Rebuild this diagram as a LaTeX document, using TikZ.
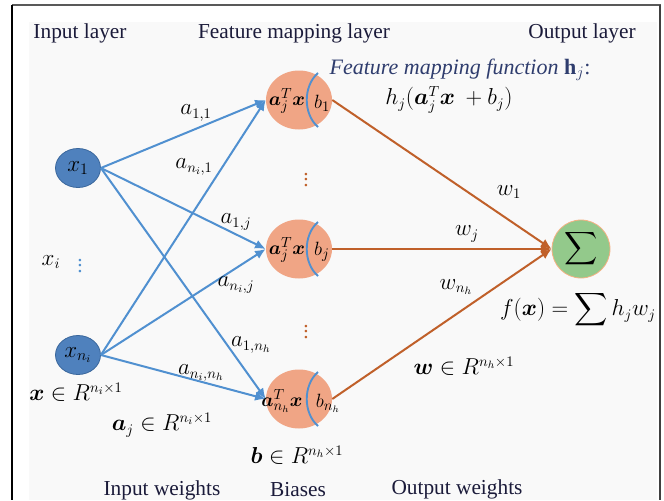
\documentclass[tikz,border=0pt]{standalone}
\usepackage{amsmath,bm}
\usepackage{fontspec}
\setmainfont{Liberation Serif}
\usetikzlibrary{arrows.meta,shapes.geometric}
\definecolor{bluenode}{HTML}{4F81BD}
\definecolor{blueedge}{HTML}{3A679C}
\definecolor{blueline}{HTML}{5090D0}
\definecolor{brownline}{HTML}{C0602A}
\definecolor{orangefill}{HTML}{F0A585}
\definecolor{greenfill}{HTML}{93C98B}
\definecolor{greenedge}{HTML}{F4B183}
\definecolor{navy}{HTML}{1B1B3A}
\definecolor{fnblue}{HTML}{2F3D6E}
\definecolor{bggrey}{HTML}{F9F9F9}
\begin{document}
\begin{tikzpicture}[x=0.75pt,y=-0.75pt,
  title/.style={text=navy,font=\fontsize{16}{18}\selectfont,inner sep=0},
  lab/.style={font=\fontsize{16}{18}\selectfont,inner sep=0},
  nlab/.style={font=\fontsize{15}{17}\selectfont,inner sep=0},
  ilab/.style={font=\fontsize{17}{19}\selectfont,inner sep=0},
  inode/.style={ellipse,draw=blueedge,fill=bluenode,line width=0.6pt,minimum width=33.75pt,minimum height=29.25pt,inner sep=0},
  hnode/.style={ellipse,fill=orangefill,minimum width=49.5pt,minimum height=44.25pt,inner sep=0},
  snode/.style={circle,draw=greenedge,fill=greenfill,line width=0.6pt,minimum size=43.5pt,inner sep=0},
  barrow/.style={draw=blueline,line width=1.5pt,-{Latex[length=8pt,width=7pt]}},
  rarrow/.style={draw=brownline,line width=1.5pt,-{Latex[length=8pt,width=7pt]}},
  arcline/.style={draw=blueline,line width=1.4pt},
]
\useasboundingbox (0,0) rectangle (664,500);
% frame
\fill[bggrey] (29,22) rectangle (657,500);
\draw[line width=2.2pt,draw=black!65] (12,5) -- (661,5);
\draw[line width=1.1pt] (12,5) -- (12,500);
\draw[line width=1.1pt,draw=black!75] (660,5) -- (660,500);

% titles
\node[title] (tin) at (80,33) {Input layer};
\node[title] (tfm) at (294,33) {Feature mapping layer};
\node[title] (tout) at (582,33) {Output layer};
\node[title,text=fnblue,font=\fontsize{16.5}{18}\selectfont] (tfun) at (460,70) {\textit{Feature mapping function} $\mathbf{h}_j$:};
\node[lab] (hfun) at (449,100) {$h_j(\bm{a}_j^T\bm{x}\ +b_j)$};

% nodes
\node[inode] (x1) at (78,168) {};
\node[ilab] (x1t) at (x1) {$x_1$};
\node[inode] (xn) at (78,355) {};
\node[ilab] (xnt) at (xn) {$x_{n_i}$};

\node[hnode] (h1) at (299,100) {};
\node[hnode] (h2) at (299,249) {};
\node[hnode] (h3) at (299,399) {};
\node[snode] (sig) at (581,249) {};
\node[inner sep=0,font=\fontsize{19}{20}\selectfont] (sigt) at (sig) {$\displaystyle\sum$};

% blue arrows
\foreach \h in {h1,h2,h3}{
  \draw[barrow] (x1.east) -- (\h.west);
  \draw[barrow] (xn.east) -- (\h.west);
}
% brown arrows
\foreach \h in {h1,h2,h3}{
  \draw[rarrow] (\h.east) -- (sig.west);
}

% hidden node contents
\node[nlab] (h1a) at (287,101) {$\bm{a}_j^T\bm{x}$};
\node[nlab] (h1b) at (322,103) {$b_1$};
\draw[arcline] (318,73) .. controls (303,86) and (303,114) .. (318,127);
\node[nlab] (h2a) at (287,250) {$\bm{a}_j^T\bm{x}$};
\node[nlab] (h2b) at (322,252) {$b_j$};
\draw[arcline] (318,222) .. controls (303,235) and (303,263) .. (318,276);
\node[nlab] (h3a) at (282,401) {$\bm{a}_{n_h}^T\bm{x}$};
\node[nlab] (h3b) at (328,403) {$b_{n_h}$};
\draw[arcline] (318,372) .. controls (303,385) and (303,413) .. (318,426);

% weight labels
\node[lab] (l11) at (196,113) {$a_{1,1}$};
\node[lab] (ln1) at (194,167) {$a_{n_i,1}$};
\node[lab] (l1j) at (236,222) {$a_{1,j}$};
\node[lab] (lnj) at (236,285) {$a_{n_i,j}$};
\node[lab] (l1h) at (251,345) {$a_{1,n_h}$};
\node[lab] (lnh) at (201,373) {$a_{n_i,n_h}$};
\node[lab] (w1) at (509,192) {$w_1$};
\node[lab] (wj) at (467,234) {$w_j$};
\node[lab] (wh) at (456,287) {$w_{n_h}$};

% dots
\node[lab] (xi) at (51,262) {$x_i$};
\node[lab,text=blueline] (vd1) at (80,262) {$\vdots$};
\node[lab,text=brownline] (vd2) at (306,176) {$\vdots$};
\node[lab,text=brownline] (vd3) at (306,328) {$\vdots$};

% formulas
\node[lab] (fx) at (578,310) {$f(\bm{x}) = \displaystyle\sum h_j w_j$};
\node[lab] (xr) at (76,392) {$\bm{x}\in R^{n_i\times 1}$};
\node[lab] (ar) at (162,425) {$\bm{a}_j\in R^{n_i\times 1}$};
\node[lab] (br) at (297,455) {$\bm{b}\in R^{n_h\times 1}$};
\node[lab] (wr) at (464,366) {$\bm{w}\in R^{n_h\times 1}$};

% bottom titles
\node[title] (biw) at (162,490) {Input weights};
\node[title] (bb) at (298,490) {Biases};
\node[title] (bow) at (457,489) {Output weights};
\end{tikzpicture}
\end{document}
